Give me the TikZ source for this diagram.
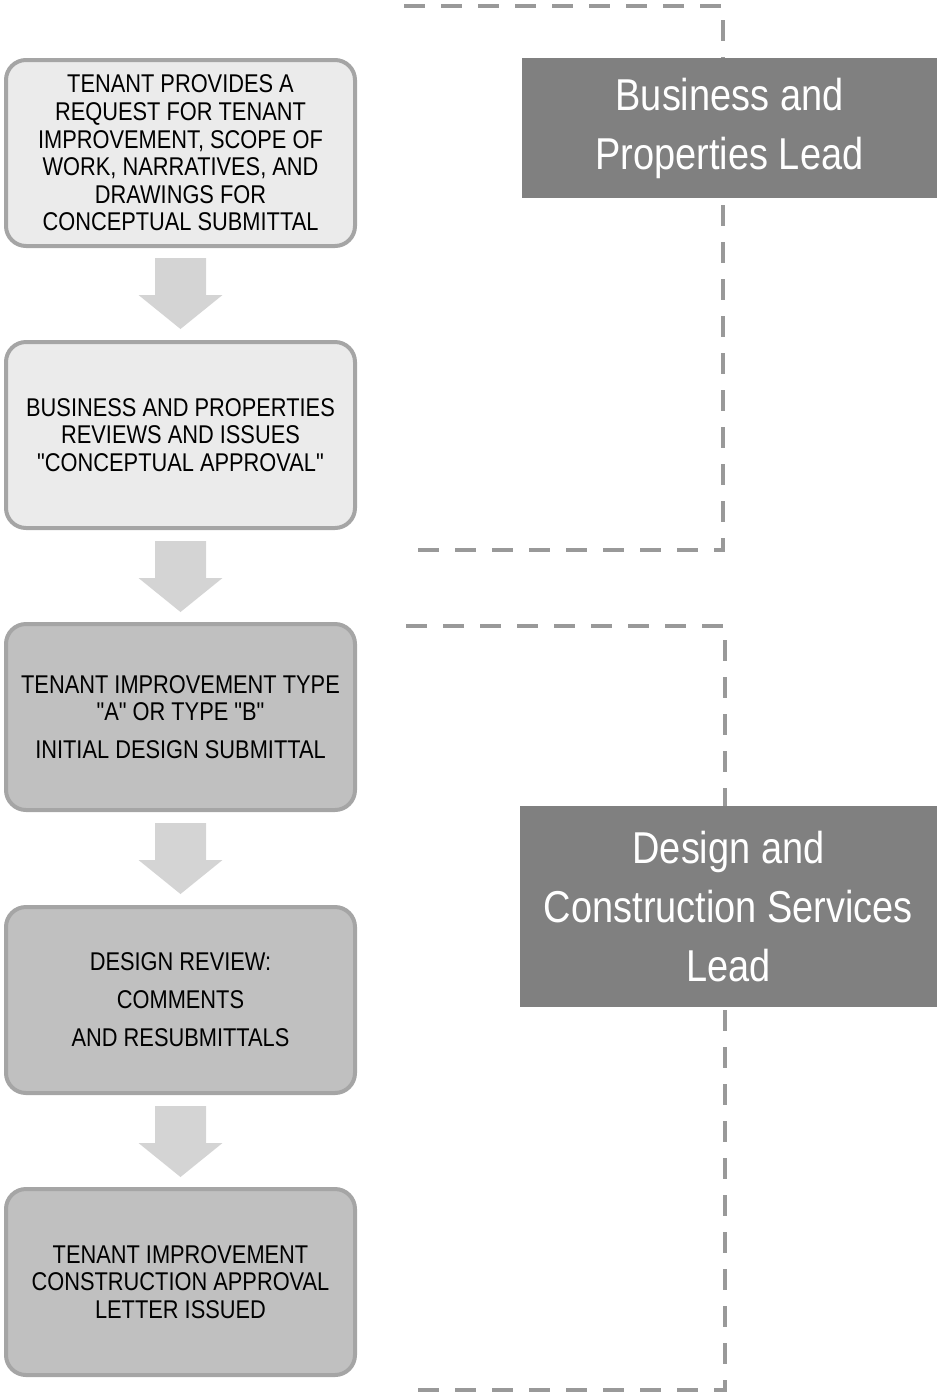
\documentclass[tikz,border=0pt]{standalone}
\usepackage{fontspec}
\setmainfont[FakeStretch=0.85,Ligatures=TeXOff]{Liberation Sans}
\definecolor{lightfill}{HTML}{EBEBEB}
\definecolor{darkfill}{HTML}{C0C0C0}
\definecolor{boxline}{HTML}{A5A5A5}
\definecolor{arrowgray}{HTML}{D4D4D4}
\definecolor{leadgray}{HTML}{808080}
\definecolor{dashgray}{HTML}{999999}
\begin{document}
\begin{tikzpicture}[inner sep=0pt,outer sep=0pt,
stepbox/.style={draw=boxline,fill=lightfill,line width=0.08cm,rounded corners=0.4cm,minimum width=6.98cm,minimum height=3.72cm,align=center,font=\fontsize{14.6}{15.7}\selectfont},
darkbox/.style={stepbox,fill=darkfill},
flow/.style={fill=arrowgray},
lead/.style={fill=leadgray,text=white,align=center,font=\fontsize{25.4}{33.6}\selectfont},
bracket/.style={draw=dashgray,line width=0.08cm,dash pattern=on 0.42cm off 0.32cm}]
\useasboundingbox (0,0) rectangle (18.74,-27.9);
\coordinate (p1a) at (8.08,-0.12);
\coordinate (p1b) at (14.46,-0.12);
\coordinate (p1c) at (14.46,-11.0);
\coordinate (p1d) at (8.2,-11.0);
\coordinate (p2a) at (8.12,-12.52);
\coordinate (p2b) at (14.5,-12.52);
\coordinate (p2c) at (14.5,-27.8);
\coordinate (p2d) at (8.14,-27.8);
\draw[bracket] (p1a) -- (p1b) -- (p1c) -- (p1d);
\draw[bracket] (p2a) -- (p2b) -- (p2c) -- (p2d);
\draw (14.59,-2.56) node[lead,minimum width=8.3cm,minimum height=2.8cm] (bplead) {Business and\\Properties Lead};
\draw (14.57,-18.13) node[lead,minimum width=8.34cm,minimum height=4.02cm] (dclead) {Design and\\Construction Services\\Lead};
\draw (3.61,-3.06) node[stepbox] (request) {TENANT PROVIDES A\\REQUEST FOR TENANT\\IMPROVEMENT, SCOPE OF\\WORK, NARRATIVES, AND\\DRAWINGS FOR\\CONCEPTUAL SUBMITTAL};
\draw (3.61,-8.70) node[stepbox] (concept) {BUSINESS AND PROPERTIES\\REVIEWS AND ISSUES\\"CONCEPTUAL APPROVAL"};
\draw (3.61,-14.34) node[darkbox] (initial) {TENANT IMPROVEMENT TYPE\\"A" OR TYPE "B"\\[5.9pt]INITIAL DESIGN SUBMITTAL};
\draw (3.61,-20.0) node[darkbox] (review) {DESIGN REVIEW:\\[5.9pt]COMMENTS\\[5.9pt]AND RESUBMITTALS};
\draw (3.61,-25.64) node[darkbox] (approval) {TENANT IMPROVEMENT\\CONSTRUCTION APPROVAL\\LETTER ISSUED};
\coordinate (f1) at (3.61,-5.16);
\coordinate (f2) at (3.61,-10.82);
\coordinate (f3) at (3.61,-16.46);
\coordinate (f4) at (3.61,-22.12);
\foreach \f in {f1,f2,f3,f4}
  \fill[flow] (\f) ++(-0.51,0) -- ++(1.02,0) -- ++(0,-0.74) -- ++(0.33,0) -- ++(-0.84,-0.68) -- ++(-0.84,0.68) -- ++(0.33,0) -- cycle;
\end{tikzpicture}
\end{document}
